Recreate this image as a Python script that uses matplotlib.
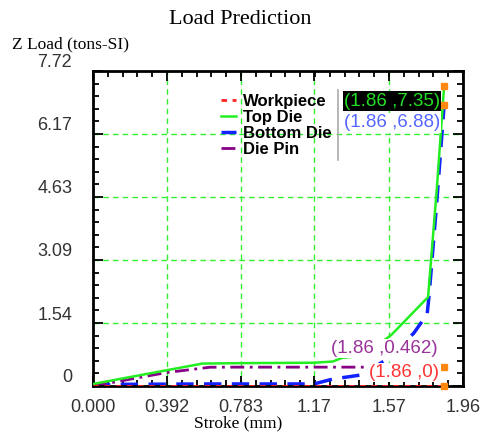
import matplotlib
matplotlib.use("Agg")
import matplotlib.pyplot as plt
import matplotlib.transforms as mtransforms
from matplotlib.ticker import AutoMinorLocator
from matplotlib.lines import Line2D

# ---- data ----
x_ticks = [0.0, 0.392, 0.783, 1.17, 1.57, 1.96]
x_tick_labels = ["0.000", "0.392", "0.783", "1.17", "1.57", "1.96"]
y_ticks = [0.0, 1.544, 3.088, 4.632, 6.176, 7.72]
y_tick_labels = ["0", "1.54", "3.09", "4.63", "6.17", "7.72"]

work_x = [0.0, 0.4, 0.8, 1.2, 1.6, 1.86]
work_y = [0.0, 0.0, 0.0, 0.0, 0.0, 0.0]

top_x = [0.0, 0.58, 0.78, 1.17, 1.27, 1.32, 1.43, 1.58, 1.775, 1.82, 1.86]
top_y = [0.05, 0.55, 0.56, 0.57, 0.60, 0.69, 0.74, 1.25, 2.18, 4.75, 7.35]

bot_x = [0.0, 0.1, 0.6, 1.17, 1.27, 1.42, 1.57, 1.70, 1.77, 1.78, 1.82, 1.86]
bot_y = [0.0, 0.04, 0.05, 0.05, 0.17, 0.27, 0.69, 1.30, 1.76, 2.20, 4.45, 6.88]

pin_x = [0.0, 0.39, 0.62, 0.78, 1.17, 1.43, 1.86]
pin_y = [0.0, 0.33, 0.46, 0.462, 0.462, 0.462, 0.462]

series_names = ["Workpiece", "Top Die", "Bottom Die", "Die Pin"]
end_labels = ["(1.86 ,0)", "(1.86 ,7.35)", "(1.86 ,6.88)", "(1.86 ,0.462)"]

# ---- figure ----
W, H = 487, 432
fig = plt.figure(figsize=(W / 100, H / 100), dpi=100)
ax = fig.add_axes([93 / W, 1 - 386 / H, (463 - 93) / W, (386 - 71) / H])

grid_c = "#33ee33"
sans = ["Liberation Sans", "DejaVu Sans"]
serif = ["Liberation Serif", "DejaVu Serif"]

ax.set_xlim(0, 1.96)
ax.set_ylim(0, 7.72)
ax.set_xticks(x_ticks)
ax.set_xticklabels(x_tick_labels)
ax.set_yticks(y_ticks)
ax.set_yticklabels(y_tick_labels)
ax.xaxis.set_minor_locator(AutoMinorLocator(5))
ax.yaxis.set_minor_locator(AutoMinorLocator(5))
ax.tick_params(which="both", direction="in", top=True, right=True, width=1.3, colors="black",
               labelcolor="#333333", labelsize=13)
ax.tick_params(which="major", length=7)
ax.tick_params(which="minor", length=4)
ax.tick_params(axis="y", pad=15)
ax.tick_params(axis="x", pad=9)
for lab in ax.get_xticklabels() + ax.get_yticklabels():
    lab.set_family(sans)
off = mtransforms.ScaledTranslation(0, 10 / 100, fig.dpi_scale_trans)
for lab in ax.get_yticklabels():
    lab.set_transform(lab.get_transform() + off)

for s in ax.spines.values():
    s.set_linewidth(2)
    s.set_color("black")

ax.grid(True, which="major", color=grid_c, linestyle=(0, (4, 3)), linewidth=1)
ax.set_axisbelow(True)

l_work, = ax.plot(work_x, work_y, color="#ff2222", linestyle=(0, (2, 2)), linewidth=2, zorder=4)
l_top, = ax.plot(top_x, top_y, color="#22ee22", linestyle="-", linewidth=1.8, zorder=3)
l_bot, = ax.plot(bot_x, bot_y, color="#1122ff", linestyle=(0, (5, 3)), linewidth=2.5, zorder=2)
l_pin, = ax.plot(pin_x, pin_y, color="#880088", linestyle=(0, (5, 2, 1, 2)), linewidth=2, zorder=2)

for xs, ys in [(work_x, work_y), (top_x, top_y), (bot_x, bot_y), (pin_x, pin_y)]:
    ax.plot([xs[-1]], [ys[-1]], marker="s", markersize=4, color="#ff8811", zorder=6, clip_on=False)

lab_font = dict(fontsize=13.5, family=sans, ha="right", va="center", zorder=7)
ax.text(1.838, 6.98, end_labels[1], color="#22dd22",
        bbox=dict(facecolor="black", edgecolor="none", pad=1), **lab_font)
ax.text(1.838, 6.45, end_labels[2], color="#5566ff",
        bbox=dict(facecolor="white", edgecolor="none", pad=1), **lab_font)
ax.text(1.825, 0.92, end_labels[3], color="#993399",
        bbox=dict(facecolor="white", edgecolor="none", pad=1), **lab_font)
ax.text(1.835, 0.33, end_labels[0], color="#ff3333",
        bbox=dict(facecolor="white", edgecolor="none", pad=1), **lab_font)

leg = ax.legend([l_work, l_top, l_bot, l_pin], series_names, loc="upper left",
                bbox_to_anchor=((213 - 93) / 370, (386 - 86) / 315), frameon=False,
                handlelength=0.9, handletextpad=0.4, labelspacing=0.05, borderpad=0,
                prop=dict(family=sans, weight="bold", size=12))
leg.set_zorder(8)
ax.add_line(Line2D([(338 - 93) / 370] * 2, [(386 - 90) / 315, (386 - 160) / 315],
                   transform=ax.transAxes, color="#aaaaaa", linewidth=1.2, zorder=8))

fig.text(240 / W, 1 - 20 / H, "Load Prediction", ha="center", va="center", fontsize=16, family=serif)
fig.text(12 / W, 1 - 44 / H, "Z Load (tons-SI)", ha="left", va="center", fontsize=12.5, family=serif)
fig.text(238 / W, 1 - 423 / H, "Stroke (mm)", ha="center", va="center", fontsize=12.5, family=serif)

fig.savefig("out.png", dpi=100)
